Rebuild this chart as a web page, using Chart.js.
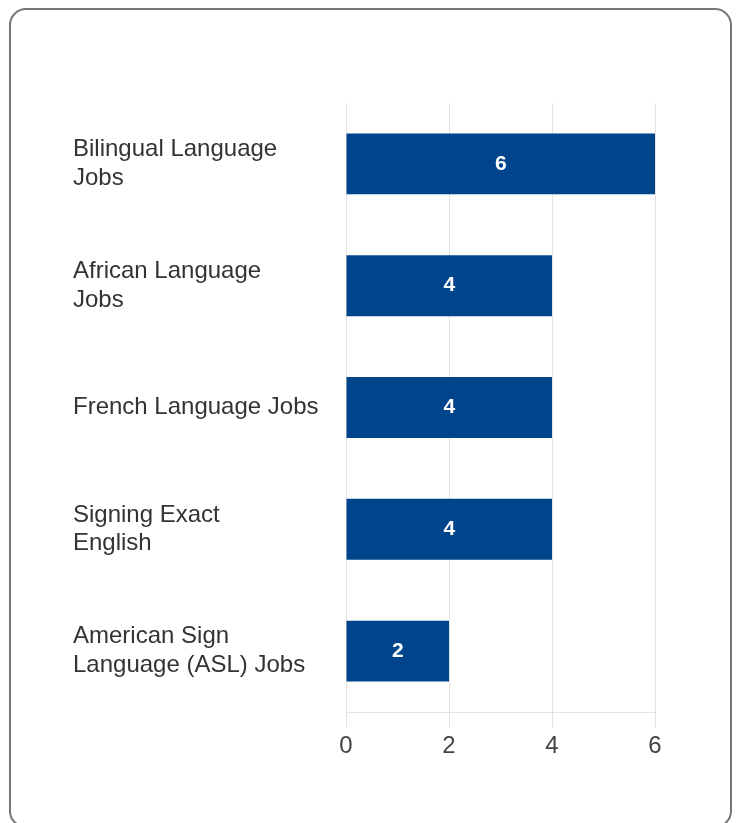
<!DOCTYPE html>
<html>
<head>
<meta charset="utf-8">
<script src="https://cdn.jsdelivr.net/npm/chart.js@4.4.1/dist/chart.umd.min.js"></script>
<style>
    body { margin: 0; background: #fff; font-family: "Liberation Sans", Arial, sans-serif; }
    .card {
        position: absolute;
        left: 9px; top: 8px;
        width: 719px; height: 816px;
        border: 2px solid #777;
        border-radius: 17px;
    }
    .wrap { position: absolute; left: 0; top: 0; width: 737px; height: 823px; }
</style>
</head>
<body>
<div class="card"></div>
<div class="wrap"><canvas id="jobsChart"></canvas></div>
<script>
// Data
const categories = [
    ['Bilingual Language', 'Jobs'],
    ['African Language', 'Jobs'],
    'French Language Jobs',
    ['Signing Exact', 'English'],
    ['American Sign', 'Language (ASL) Jobs']
];
const jobCounts = [6, 4, 4, 4, 2];
const xTicks = [0, 2, 4, 6];

// White value labels inside the bars
const barValueLabels = {
    id: 'barValueLabels',
    afterDatasetsDraw(chart) {
        const ctx = chart.ctx;
        const meta = chart.getDatasetMeta(0);
        ctx.save();
        ctx.fillStyle = '#ffffff';
        ctx.font = 'bold 21px "Liberation Sans", Arial, sans-serif';
        ctx.textAlign = 'center';
        ctx.textBaseline = 'middle';
        meta.data.forEach((bar, i) => {
            const x = (bar.x + bar.base) / 2;
            ctx.fillText(String(jobCounts[i]), x, bar.y);
        });
        ctx.restore();
    }
};

const ctx = document.getElementById('jobsChart').getContext('2d');
const jobsChart = new Chart(ctx, {
    type: 'bar',
    data: {
        labels: categories,
        datasets: [{
            data: jobCounts,
            backgroundColor: '#00458c',
            borderWidth: 0,
            barPercentage: 0.5,
            categoryPercentage: 1.0
        }]
    },
    options: {
        indexAxis: 'y',
        responsive: true,
        maintainAspectRatio: false,
        animation: false,
        layout: {
            padding: { left: 73, top: 103, right: 82, bottom: 0 }
        },
        plugins: {
            legend: { display: false },
            tooltip: { enabled: false }
        },
        scales: {
            x: {
                min: 0,
                max: 6,
                afterBuildTicks: scale => {
                    scale.ticks = xTicks.map(v => ({ value: v }));
                },
                afterFit: scale => { scale.height = 111; },
                grid: { color: '#e3e3e3', lineWidth: 1, tickLength: 15 },
                border: { display: true, color: '#e3e3e3' },
                ticks: {
                    color: '#444',
                    padding: 5,
                    font: { size: 24, family: '"Liberation Sans", Arial, sans-serif' }
                }
            },
            y: {
                afterFit: scale => { scale.width = 273; },
                grid: { display: false },
                border: { display: false },
                ticks: {
                    crossAlign: 'far',
                    color: '#333',
                    font: { size: 24, family: '"Liberation Sans", Arial, sans-serif', lineHeight: 1.2 }
                }
            }
        }
    },
    plugins: [barValueLabels]
});
</script>
</body>
</html>
